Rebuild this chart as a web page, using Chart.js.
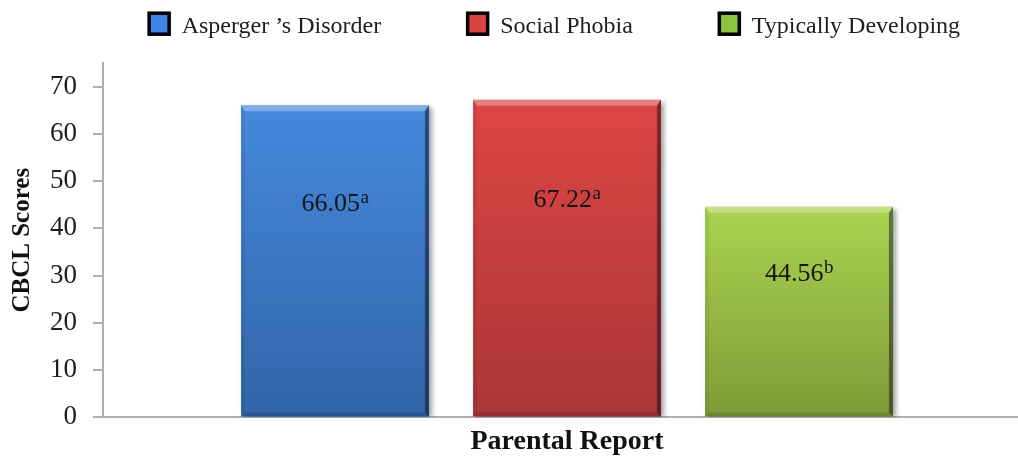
<!DOCTYPE html>
<html>
<head>
<meta charset="utf-8">
<script src="https://cdn.jsdelivr.net/npm/chart.js@4.4.1/dist/chart.umd.min.js"></script>
<style>
  html, body { margin: 0; padding: 0; background: #fff; overflow: hidden; }
  #wrap { position: relative; width: 1032px; height: 459px; }
</style>
</head>
<body>
<div id="wrap"><canvas id="chart"></canvas></div>
<script>
const categories = ['Parental Report'];
const groups = ['Asperger ’s Disorder', 'Social Phobia', 'Typically Developing'];
const scores = [66.05, 67.22, 44.56];
const letters = ['a', 'a', 'b'];
const yTicks = [0, 10, 20, 30, 40, 50, 60, 70];

const serif = '"Liberation Serif", "Times New Roman", serif';
const axisGray = '#b0b0b0';
const fills = [
  { top: '#4589dc', bottom: '#3265a8', swatch: '#4285ea' },
  { top: '#dd4545', bottom: '#aa3636', swatch: '#da4242' },
  { top: '#a9d350', bottom: '#7e9c37', swatch: '#8cc63f' }
];

function barFill(i) {
  return (ctx) => {
    const chart = ctx.chart;
    const area = chart.chartArea;
    if (!area) return fills[i].top;
    const top = chart.scales.y.getPixelForValue(scores[i]);
    const g = chart.ctx.createLinearGradient(0, top, 0, area.bottom);
    g.addColorStop(0, fills[i].top);
    g.addColorStop(1, fills[i].bottom);
    return g;
  };
}

function poly(c, pts, color) {
  c.beginPath();
  c.moveTo(pts[0][0], pts[0][1]);
  pts.slice(1).forEach((p) => c.lineTo(p[0], p[1]));
  c.closePath();
  c.fillStyle = color;
  c.fill();
}

// excel-ish bevel on each bar
function drawBevel(c, bar) {
  const { x, y, base, width } = bar.getProps(['x', 'y', 'base', 'width'], true);
  const l = x - width / 2, r = x + width / 2, t = y, b = base;
  const d = 6, e = 4;
  poly(c, [[l, t], [r, t], [r - e, t + d], [l + e, t + d]], 'rgba(255,255,255,0.3)');
  poly(c, [[l, t], [l + e, t + d], [l + e, b - e], [l, b]], 'rgba(0,0,0,0.06)');
  poly(c, [[r, t], [r, b], [r - e, b - e], [r - e, t + d]], 'rgba(0,0,20,0.45)');
  poly(c, [[l, b], [l + e, b - e], [r - e, b - e], [r, b]], 'rgba(0,0,0,0.14)');
}

function drawScoreLabel(c, bar, i) {
  const main = scores[i].toFixed(2);
  c.font = '26px ' + serif;
  const w1 = c.measureText(main).width;
  c.font = '19px ' + serif;
  const w2 = c.measureText(letters[i]).width;
  const left = bar.x - (w1 + w2) / 2;
  const mid = bar.y + (bar.base - bar.y) * 0.31;
  const baseline = mid + 8.8;
  c.fillStyle = '#161616';
  c.textAlign = 'left';
  c.textBaseline = 'alphabetic';
  c.font = '26px ' + serif;
  c.fillText(main, left, baseline);
  c.font = '19px ' + serif;
  c.fillText(letters[i], left + w1 + 0.5, baseline - 8);
}

const barDecor = {
  id: 'barDecor',
  beforeDatasetsDraw(chart) {
    const c = chart.ctx;
    c.save();
    c.shadowColor = 'rgba(0,0,0,0.38)';
    c.shadowBlur = 5;
    c.shadowOffsetX = 3;
    c.shadowOffsetY = 2;
  },
  afterDatasetsDraw(chart) {
    const c = chart.ctx;
    c.restore();
    c.save();
    chart.data.datasets.forEach((ds, i) => {
      chart.getDatasetMeta(i).data.forEach((bar) => {
        drawBevel(c, bar);
        drawScoreLabel(c, bar, i);
      });
    });
    c.restore();
  }
};

// legend drawn by hand: the spacing between items is wider than the built-in legend allows
const boxLegend = {
  id: 'boxLegend',
  afterDraw(chart) {
    const c = chart.ctx;
    const gap = 86.5, boxW = 20, boxH = 21, textGap = 12.5;
    c.save();
    c.font = '24px ' + serif;
    const items = chart.data.datasets.map((ds, i) => ({
      text: ds.label, color: fills[i].swatch, w: c.measureText(ds.label).width
    }));
    const total = items.reduce((s, it) => s + boxW + textGap + it.w, 0) + gap * (items.length - 1);
    let x = 554.6 - total / 2;
    items.forEach((it) => {
      c.fillStyle = it.color;
      c.fillRect(x, 13.2, boxW, boxH);
      c.lineWidth = 3.5;
      c.strokeStyle = '#000';
      c.strokeRect(x, 13.2, boxW, boxH);
      c.fillStyle = '#1e1e1e';
      c.textBaseline = 'alphabetic';
      c.textAlign = 'left';
      c.fillText(it.text, x + boxW + textGap, 33);
      x += boxW + textGap + it.w + gap;
    });
    c.restore();
  }
};

new Chart(document.getElementById('chart'), {
  type: 'bar',
  data: {
    labels: categories,
    datasets: groups.map((g, i) => ({
      label: g,
      data: [scores[i]],
      backgroundColor: barFill(i),
      borderWidth: 0,
      categoryPercentage: 0.75,
      barPercentage: 0.81
    }))
  },
  options: {
    responsive: true,
    maintainAspectRatio: false,
    animation: false,
    layout: { padding: { top: 63, right: 1, left: 0, bottom: 0 } },
    scales: {
      x: {
        grid: { display: false, drawTicks: false },
        border: { color: axisGray, width: 2 },
        ticks: { display: false },
        title: {
          display: true,
          text: categories[0],
          color: '#111',
          font: { family: serif, size: 28, weight: 'bold' },
          padding: { top: 8, bottom: 0 }
        }
      },
      y: {
        min: 0,
        max: 75,
        afterBuildTicks: (s) => { s.ticks = yTicks.map((v) => ({ value: v })); },
        afterFit: (s) => { s.width = 103; },
        grid: { drawOnChartArea: false, color: axisGray, lineWidth: 2, tickLength: 10 },
        border: { color: axisGray, width: 2 },
        ticks: { padding: 16, color: '#1e1e1e', font: { family: serif, size: 27 } },
        title: {
          display: true,
          text: 'CBCL Scores',
          color: '#111',
          font: { family: serif, size: 25, weight: 'bold' },
          padding: { top: 8, bottom: 0 }
        }
      }
    },
    plugins: {
      legend: { display: false },
      tooltip: { enabled: false }
    }
  },
  plugins: [barDecor, boxLegend]
});
</script>
</body>
</html>
